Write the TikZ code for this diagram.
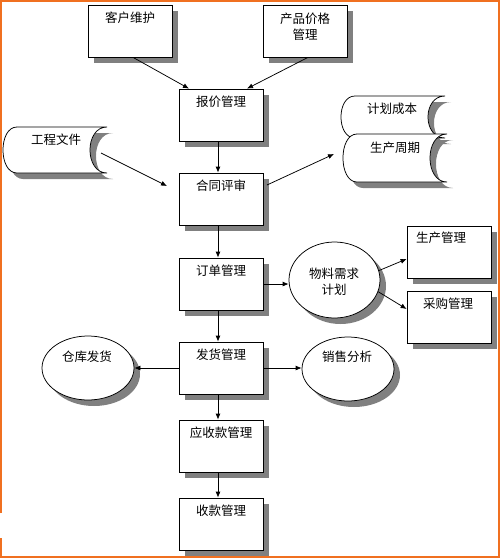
\documentclass[tikz,border=0pt]{standalone}
\usepackage{fontspec}
\setmainfont{Noto Sans CJK SC}
\usetikzlibrary{arrows.meta,shadows,shapes.geometric}
\definecolor{framecol}{RGB}{240,112,32}
\definecolor{shadecol}{RGB}{128,128,128}
\newcommand\myscroll[4]{%
  \fill[shadecol] ({#1+6+14},{#2+6}) -- ({#3+6},{#2+6})
    .. controls ({#3+6-22.7},{#2+6}) and ({#3+6-22.7},{#4+6}) .. ({#3+6},{#4+6})
    -- ({#1+6+14},{#4+6})
    .. controls ({#1+6-4.7},{#4+6}) and ({#1+6-4.7},{#2+6}) .. ({#1+6+14},{#2+6}) -- cycle;
  \filldraw[fill=white,draw=black,line width=0.75pt] ({#1+14},#2) -- (#3,#2)
    .. controls ({#3-22.7},#2) and ({#3-22.7},#4) .. (#3,#4)
    -- ({#1+14},#4)
    .. controls ({#1-4.7},#4) and ({#1-4.7},#2) .. ({#1+14},#2) -- cycle;
}
\tikzset{
  shad/.style={drop shadow={shadow xshift=6pt,shadow yshift=-6pt,fill=shadecol,opacity=1}},
  box/.style={draw,fill=white,line width=0.75pt,minimum width=84pt,minimum height=52pt,inner sep=0pt,shad},
  oval/.style={ellipse,draw,fill=white,line width=0.75pt,inner sep=0pt,shad},
  txt/.style={font=\fontsize{12.5}{16}\selectfont,align=center,inner sep=0pt},
  arr/.style={line width=0.75pt,-{Latex[length=6pt,width=5pt]}},
}
\begin{document}
\begin{tikzpicture}[x=1pt,y=-1pt]
\useasboundingbox (0,0) rectangle (500,558);
\fill[white] (0,0) rectangle (500,558);
% border
\draw[framecol,line width=2pt] (1,513) -- (1,1) -- (498.5,1) -- (498.5,556.5) -- (1,556.5) -- (1,538);

% scrolls
\myscroll{3}{127}{107}{173}
\node[txt] (gctext) at (56,140) {工程文件};
\myscroll{341}{96}{445}{138}
\node[txt] (jhtext) at (392,109) {计划成本};
\myscroll{343}{134}{447}{182}
\node[txt] (sztext) at (395,148) {生产周期};

% boxes
\node[box] (kh) at (130,31) {};
\node[txt] (khtext) at (130,18) {客户维护};
\node[box] (cp) at (305,31) {};
\node[txt] (cptext) at (305,27) {产品价格\\管理};
\node[box] (bj) at (221,115) {};
\node[txt] (bjtext) at (221,102) {报价管理};
\node[box] (ht) at (221,199) {};
\node[txt] (httext) at (221,186) {合同评审};
\node[box] (dd) at (221,284) {};
\node[txt] (ddtext) at (221,271) {订单管理};
\node[box] (fh) at (221,368) {};
\node[txt] (fhtext) at (221,355) {发货管理};
\node[box] (ys) at (221,446) {};
\node[txt] (ystext) at (221,433) {应收款管理};
\node[box] (sk) at (221,524) {};
\node[txt] (sktext) at (221,511) {收款管理};
\node[box] (sc) at (449,252) {};
\node[txt] (sctext) at (441,238) {生产管理};
\node[box] (cg) at (449,317) {};
\node[txt] (cgtext) at (448,304) {采购管理};

% ellipses
\node[oval,minimum width=92pt,minimum height=64pt] (ck) at (88,368) {};
\node[txt] (cktext) at (87,357) {仓库发货};
\node[oval,minimum width=92pt,minimum height=64pt] (xs) at (348,369) {};
\node[txt] (xstext) at (347,357) {销售分析};
\node[oval,minimum width=91pt,minimum height=76pt] (wl) at (334.5,280) {};
\node[txt] (wltext) at (334,281.5) {物料需求\\计划};

% free ends
\coordinate (gcout) at (101,153);
\coordinate (htin) at (167,186);
\coordinate (htout) at (267,185);
\coordinate (zqin) at (334,154);

% connectors
\draw[arr] ([xshift=3pt]kh.south) -- ([xshift=-32pt]bj.north);
\draw[arr] ([xshift=3pt]cp.south) -- ([xshift=26pt]bj.north);
\draw[arr] ([xshift=-3pt]bj.south) -- ([xshift=-3pt]ht.north);
\draw[arr] (gcout) -- (htin);
\draw[arr] (htout) -- (zqin);
\draw[arr] ([xshift=-3pt]ht.south) -- ([xshift=-3pt]dd.north);
\draw[arr] (dd.east) -- (dd.east -| wl.west);
\draw[arr] (wl.12) -- ([yshift=-7pt]sc.west);
\draw[arr] (wl.-15) -- ([yshift=8pt]cg.west);
\draw[arr] ([xshift=-3pt]dd.south) -- ([xshift=-3pt]fh.north);
\draw[arr] (fh.west) -- (fh.west -| ck.east);
\draw[arr] (fh.east) -- (fh.east -| xs.west);
\draw[arr] ([xshift=-3pt]fh.south) -- ([xshift=-3pt]ys.north);
\draw[arr] ([xshift=-3pt]ys.south) -- ([xshift=-3pt]sk.north);
\end{tikzpicture}
\end{document}
